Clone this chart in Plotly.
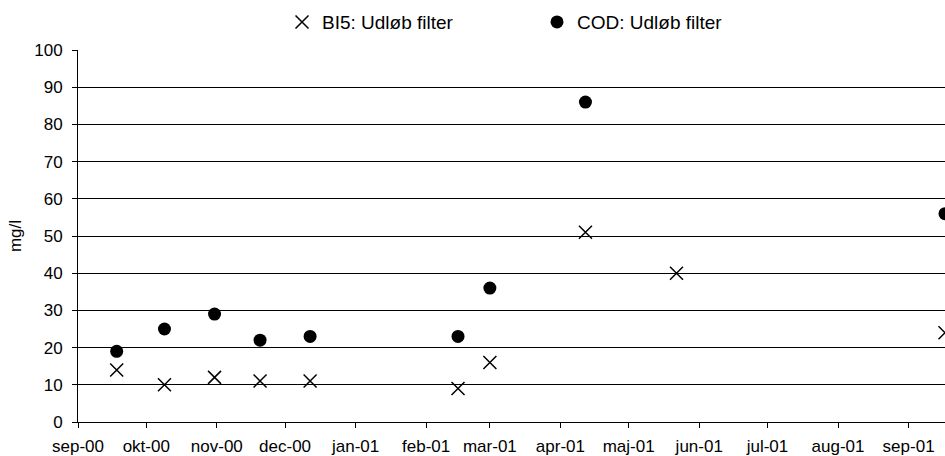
import plotly.graph_objects as go

# Data
dates = ["2000-09-18", "2000-10-09", "2000-10-31", "2000-11-20", "2000-12-12",
         "2001-02-15", "2001-03-01", "2001-04-12", "2001-05-22", "2001-09-17"]
bi5 = [14, 10, 12, 11, 11, 9, 16, 51, 40, 24]
cod = [19, 25, 29, 22, 23, 23, 36, 86, None, 56]

tick_dates = ["2000-09-01", "2000-10-01", "2000-11-01", "2000-12-01", "2001-01-01",
              "2001-02-01", "2001-03-01", "2001-04-01", "2001-05-01", "2001-06-01",
              "2001-07-01", "2001-08-01", "2001-09-01"]
tick_labels = ["sep-00", "okt-00", "nov-00", "dec-00", "jan-01", "feb-01", "mar-01",
               "apr-01", "maj-01", "jun-01", "jul-01", "aug-01", "sep-01"]
y_ticks = list(range(0, 101, 10))

FONT = "Liberation Sans, Arial, sans-serif"
TF = 17

fig = go.Figure()
fig.add_trace(go.Scatter(
    x=dates, y=bi5, mode="markers", name="BI5: Udløb filter",
    marker=dict(symbol="x-thin-open", size=13, color="black",
                line=dict(color="black", width=1.5)),
))
fig.add_trace(go.Scatter(
    x=dates, y=cod, mode="markers", name="COD: Udløb filter",
    marker=dict(symbol="circle", size=13, color="black"),
))

fig.update_layout(
    width=945, height=456,
    margin=dict(l=78, r=0, t=50, b=32),
    paper_bgcolor="white", plot_bgcolor="white",
    font=dict(family=FONT, size=TF, color="black"),
    showlegend=True,
    legend=dict(orientation="h", x=0.2353, xanchor="left", y=1.075, yanchor="middle",
                font=dict(family=FONT, size=19, color="black"),
                itemwidth=30, entrywidth=210, entrywidthmode="pixels",
                tracegroupgap=0, bgcolor="rgba(0,0,0,0)"),
    xaxis=dict(
        type="date",
        range=["2000-09-01", "2001-09-17"],
        tickvals=tick_dates, ticktext=tick_labels,
        ticks="outside", ticklen=5, tickcolor="black", tickwidth=1,
        showline=True, linecolor="black", linewidth=1,
        showgrid=False, zeroline=False,
        ticklabelstandoff=4,
        tickfont=dict(family=FONT, size=TF, color="black"),
    ),
    yaxis=dict(
        range=[0, 100], tickvals=y_ticks,
        ticks="outside", ticklen=5, tickcolor="black", tickwidth=1,
        showline=True, linecolor="black", linewidth=1,
        showgrid=True, gridcolor="black", gridwidth=1,
        zeroline=False,
        ticklabelstandoff=6,
        title=dict(text="mg/l", font=dict(family=FONT, size=TF, color="black"), standoff=8),
        tickfont=dict(family=FONT, size=TF, color="black"),
    ),
)

fig.write_html("out.html")
